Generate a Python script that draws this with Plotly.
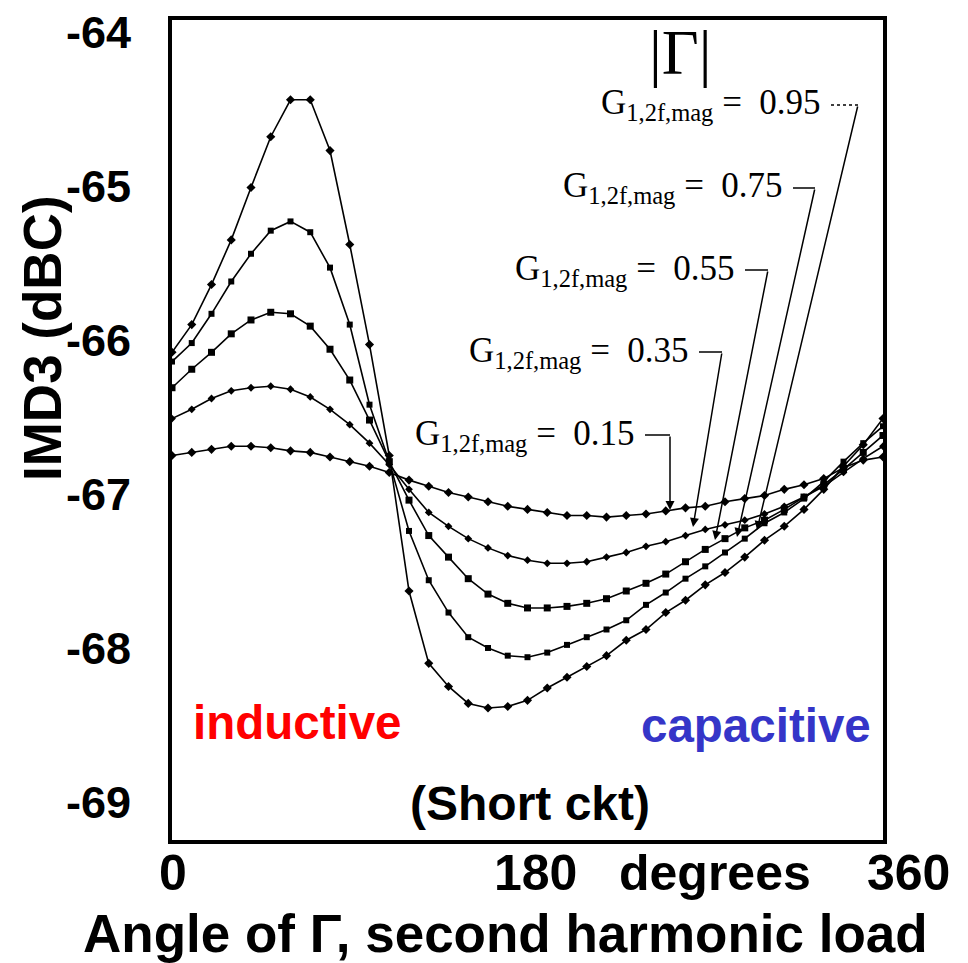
import plotly.graph_objects as go

# ---------------- data ----------------
angle_deg = [0, 10, 20, 30, 40, 50, 60, 70, 80, 90, 100, 110, 120, 130, 140, 150,
             160, 170, 180, 190, 200, 210, 220, 230, 240, 250, 260, 270, 280, 290,
             300, 310, 320, 330, 340, 350, 360]

imd3_g095 = [-66.08, -65.90, -65.64, -65.35, -65.01, -64.68, -64.44, -64.44, -64.77, -65.38,
             -66.03, -66.75, -67.63, -68.10, -68.25, -68.36, -68.39, -68.38, -68.34, -68.26,
             -68.19, -68.12, -68.05, -67.95, -67.88, -67.77, -67.69, -67.59, -67.51, -67.41,
             -67.30, -67.21, -67.10, -66.97, -66.82, -66.68, -66.51]

imd3_g075 = [-66.14, -66.02, -65.83, -65.62, -65.44, -65.29, -65.23, -65.30, -65.53, -65.90,
             -66.42, -66.79, -67.24, -67.56, -67.77, -67.93, -68.00, -68.05, -68.06, -68.03,
             -67.98, -67.93, -67.88, -67.82, -67.72, -67.64, -67.55, -67.47, -67.38, -67.29,
             -67.19, -67.12, -67.03, -66.92, -66.79, -66.67, -66.56]

imd3_g055 = [-66.31, -66.19, -66.08, -65.96, -65.87, -65.82, -65.83, -65.91, -66.06, -66.26,
             -66.52, -66.79, -67.04, -67.27, -67.41, -67.55, -67.65, -67.71, -67.74, -67.74,
             -67.73, -67.71, -67.68, -67.63, -67.58, -67.52, -67.44, -67.36, -67.29, -67.22,
             -67.17, -67.10, -67.02, -66.94, -66.84, -66.73, -66.62]

imd3_g035 = [-66.51, -66.45, -66.38, -66.33, -66.31, -66.30, -66.32, -66.37, -66.45, -66.55,
             -66.67, -66.81, -66.97, -67.12, -67.21, -67.29, -67.35, -67.40, -67.43, -67.45,
             -67.45, -67.44, -67.41, -67.38, -67.34, -67.31, -67.27, -67.23, -67.20, -67.17,
             -67.13, -67.08, -67.02, -66.95, -66.86, -66.77, -66.69]

imd3_g015 = [-66.75, -66.73, -66.71, -66.69, -66.69, -66.70, -66.72, -66.73, -66.76, -66.79,
             -66.82, -66.86, -66.91, -66.95, -66.99, -67.02, -67.05, -67.08, -67.10, -67.12,
             -67.14, -67.14, -67.15, -67.14, -67.13, -67.11, -67.09, -67.08, -67.05, -67.03,
             -67.01, -66.97, -66.94, -66.90, -66.83, -66.78, -66.76]

series_names = ["0.95", "0.75", "0.55", "0.35", "0.15"]
series_values = [imd3_g095, imd3_g075, imd3_g055, imd3_g035, imd3_g015]
series_symbols = ["diamond", "square", "square", "diamond", "diamond"]
series_sizes = [7, 6, 7, 6, 7]

y_ticks = [-64, -65, -66, -67, -68, -69]
x_tick_labels = ["0", "180", "degrees", "360"]

# ---------------- layout geometry (pixels) ----------------
W, H = 968, 963
L, R, T, B = 172, 883, 20, 840


def px(x):
    return (x - L) / (R - L)


def py(y):
    return (B - y) / (B - T)


fig = go.Figure()
for name, vals, sym, sz in zip(series_names, series_values, series_symbols, series_sizes):
    fig.add_trace(go.Scatter(
        x=angle_deg, y=vals, mode="lines+markers", name=name,
        line=dict(color="black", width=1.6),
        marker=dict(symbol=sym, size=sz, color="black"),
        showlegend=False,
    ))

SANS = "Liberation Sans, Arial, Helvetica, sans-serif"
SERIF = "Liberation Serif, Times New Roman, serif"
bold = dict(family=SANS, color="black", weight="bold")

fig.update_layout(
    width=W, height=H,
    margin=dict(l=L, r=W - R, t=T, b=H - B, pad=0, autoexpand=False),
    paper_bgcolor="white", plot_bgcolor="white",
    xaxis=dict(range=[0, 360], showticklabels=False,
               showgrid=False, zeroline=False, showline=True, mirror=True,
               linecolor="black", linewidth=4, ticks=""),
    yaxis=dict(range=[-69.247, -63.922], tickvals=y_ticks, ticktext=[str(v) for v in y_ticks],
               showgrid=False, zeroline=False, showline=True, mirror=True,
               linecolor="black", linewidth=4, ticks="", ticklabelstandoff=28,
               tickfont=dict(size=45, **bold), automargin=False),
)

ann = []


def text(x, y, s, font, **kw):
    d = dict(x=px(x), y=py(y), xref="paper", yref="paper", showarrow=False, text=s,
             font=font, xanchor="center", yanchor="middle")
    d.update(kw)
    ann.append(d)


# x tick labels (0, 180, degrees, 360)
for lab, cx in zip(x_tick_labels, [173, 535, 715, 908]):
    text(cx, 873, lab, dict(size=50, **bold))

# axis titles
text(505, 933, "Angle of Γ, second harmonic load", dict(size=53, **bold))
text(42, 338, "IMD3 (dBC)", dict(size=53, **bold), textangle=-90)

# region labels
text(297, 722, "inductive", dict(size=47.5, family=SANS, color="#ff0000", weight="bold"))
text(756, 725, "capacitive", dict(size=47.5, family=SANS, color="#3535c8", weight="bold"))
text(530, 803, "(Short ckt)", dict(size=48, **bold))

# |Gamma|
text(680, 52, "|Γ|", dict(size=64, family=SERIF, color="black"))

# G labels with leader lines
label_pos = {  # right end x, center y, corner x, arrow end (x, y)
    "0.95": (823, 105, 858, 757, 530),
    "0.75": (785, 188, 815, 737, 537),
    "0.55": (737, 270, 768, 715, 540),
    "0.35": (691, 352, 722, 693, 527),
    "0.15": (637, 435, 670, 670, 510),
}
NB = "\u00a0"
shapes = []
for name in series_names:
    rx, cy, cx, ex, ey = label_pos[name]
    text(rx, cy, "G<sub>1,2f,mag</sub>" + NB + "=" + NB + NB + name,
         dict(size=35, family=SERIF, color="black"), xanchor="right")
    shapes.append(dict(type="line", xref="paper", yref="paper",
                       x0=px(rx + 8), y0=py(cy), x1=px(cx), y1=py(cy),
                       line=dict(color="black", width=1.5,
                                 dash="dot" if name == "0.95" else "solid")))
    ann.append(dict(x=px(ex), y=py(ey), ax=px(cx), ay=py(cy),
                    xref="x domain", yref="y domain",
                    axref="x domain", ayref="y domain", showarrow=True, text="",
                    arrowhead=2, arrowsize=1.2, arrowwidth=1.5, arrowcolor="black"))

fig.update_layout(annotations=ann, shapes=shapes)
fig.write_html("out.html", config={"displayModeBar": False},
               post_script="document.body.style.margin='0px';document.body.style.padding='0px';")
